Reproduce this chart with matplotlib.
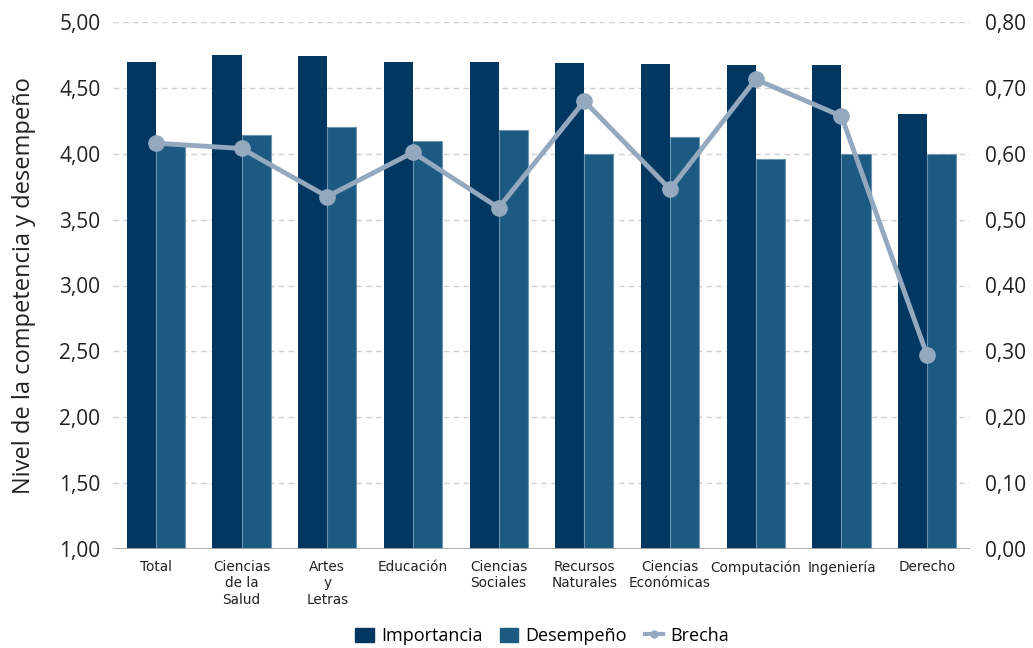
import matplotlib
matplotlib.use("Agg")
import matplotlib.pyplot as plt
import numpy as np
from matplotlib.lines import Line2D
from matplotlib.patches import Patch

categories = ["Total", "Ciencias\nde la\nSalud", "Artes\ny\nLetras", "Educación",
              "Ciencias\nSociales", "Recursos\nNaturales", "Ciencias\nEconómicas",
              "Computación", "Ingeniería", "Derecho"]
importancia = [4.70, 4.75, 4.74, 4.70, 4.70, 4.69, 4.68, 4.67, 4.67, 4.30]
desempeno = [4.08, 4.14, 4.20, 4.10, 4.18, 4.00, 4.13, 3.96, 4.00, 4.00]
brecha = [0.616, 0.608, 0.535, 0.602, 0.518, 0.680, 0.546, 0.713, 0.657, 0.294]
left_ticks = [1.0, 1.5, 2.0, 2.5, 3.0, 3.5, 4.0, 4.5, 5.0]
right_ticks = [0.0, 0.1, 0.2, 0.3, 0.4, 0.5, 0.6, 0.7, 0.8]

c_imp = "#023761"
c_des = "#1c5a81"
c_bre = "#94a9bf"
txt = "#222222"

fig = plt.figure(figsize=(10.33, 6.48), dpi=100)
ax = fig.add_axes([113/1033, 1-549/648, (970-113)/1033, (549-22)/648])
x = np.arange(len(categories))
w = 0.34
ax.bar(x - w/2, [v - 1 for v in importancia], w, bottom=1, color=c_imp, zorder=2)
ax.bar(x + w/2, [v - 1 for v in desempeno], w, bottom=1, color=c_des,
       edgecolor="#6d95b3", linewidth=0.8, zorder=2)
ax.set_ylim(1, 5)
ax.set_xlim(-0.5, len(categories) - 0.5)
ax.set_yticks(left_ticks)
ax.set_yticklabels([f"{v:.2f}".replace(".", ",") for v in left_ticks],
                   fontsize=15, family="Open Sans", color=txt)
for v in left_ticks[1:]:
    ax.axhline(v, color="#d0d0d0", linestyle=(0, (4, 3)), linewidth=1, zorder=1)
ax.axhline(1, color="#aaaaaa", linewidth=2, zorder=3)
for s in ax.spines.values():
    s.set_visible(False)
ax.tick_params(axis="y", length=0, pad=9)
ax.tick_params(axis="x", length=0, pad=8)
ax.set_xticks(x)
ax.set_xticklabels(categories, fontsize=9.8,
                   family=["Liberation Sans Narrow", "DejaVu Sans"],
                   color=txt, linespacing=1.2, va="top")
ax.set_ylabel("Nivel de la competencia y desempeño", fontsize=17,
              family="Open Sans", color=txt, labelpad=17)

ax2 = ax.twinx()
ax2.plot(x, brecha, color=c_bre, linewidth=3.5, marker="o", markersize=11, zorder=4)
ax2.set_ylim(0, 0.8)
ax2.set_yticks(right_ticks)
ax2.set_yticklabels([f"{v:.2f}".replace(".", ",") for v in right_ticks],
                    fontsize=15, family="Open Sans", color=txt)
ax2.tick_params(axis="y", length=0, pad=11)
for s in ax2.spines.values():
    s.set_visible(False)

handles = [Patch(color=c_imp), Patch(color=c_des),
           Line2D([0], [0], color=c_bre, linewidth=3, marker="o", markersize=5)]
fig.legend(handles, ["Importancia", "Desempeño", "Brecha"], loc="center",
           bbox_to_anchor=(0.525, 1-636/648), ncol=3, frameon=False,
           prop={"family": "Open Sans", "size": 13}, handlelength=1.0,
           handletextpad=0.4, columnspacing=1.0, handleheight=0.8)
fig.savefig("out.png", dpi=100)
